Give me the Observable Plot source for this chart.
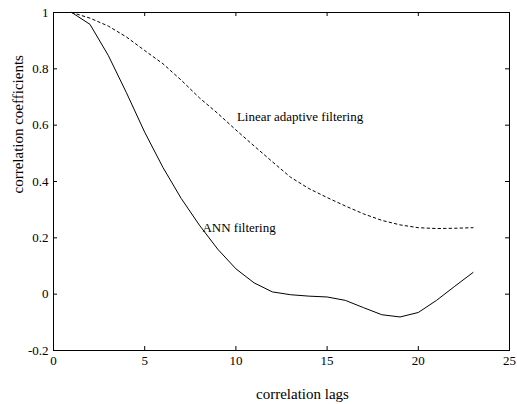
<!DOCTYPE html>
<html><head><meta charset="utf-8">
<script src="https://cdn.jsdelivr.net/npm/d3@7"></script>
<script src="https://cdn.jsdelivr.net/npm/@observablehq/plot@0.6"></script>
<style>body{margin:0;background:#fff}</style>
</head><body><div id="chart"></div>
<script>
const lags = [1,2,3,4,5,6,7,8,9,10,11,12,13,14,15,16,17,18,19,20,21,22,23];
const annValues = [1.0,0.958,0.848,0.715,0.575,0.45,0.34,0.245,0.16,0.09,0.04,0.008,-0.002,-0.007,-0.01,-0.022,-0.048,-0.073,-0.081,-0.065,-0.022,0.028,0.077];
const linearValues = [1.0,0.98,0.952,0.913,0.865,0.818,0.76,0.697,0.642,0.583,0.526,0.47,0.415,0.375,0.343,0.313,0.285,0.262,0.246,0.236,0.233,0.234,0.236];
const seriesNames = ["ANN filtering", "Linear adaptive filtering"];
const xTicks = [0,5,10,15,20,25];
const yTicks = [-0.2,0,0.2,0.4,0.6,0.8,1];
const xLabel = "correlation lags";
const yLabel = "correlation coefficients";

const ann = lags.map((x,i)=>({x, y: annValues[i]}));
const lin = lags.map((x,i)=>({x, y: linearValues[i]}));
const fmt = d => d === 0 ? "0" : String(+d.toFixed(1));
const W = 517, H = 404, mL = 53, mR = 8, mT = 12, mB = 54;
const iw = W - mL - mR, ih = H - mT - mB, tk = 4;

const chart = Plot.plot({
  width: W, height: H,
  marginLeft: mL, marginRight: mR, marginTop: mT, marginBottom: mB,
  style: {fontFamily: "Liberation Serif", fontSize: "13px", color: "black", background: "white"},
  x: {domain: [0,25]},
  y: {domain: [-0.2,1]},
  marks: [
    Plot.axisX(xTicks, {tickSize: 0, tickPadding: 5, tickFormat: fmt, label: null, fontSize: 13}),
    Plot.axisY(yTicks, {tickSize: 0, tickPadding: 5, tickFormat: fmt, label: null, fontSize: 13}),
    Plot.tickX(xTicks, {x: d=>d, insetTop: ih - tk, stroke: "black"}),
    Plot.tickX(xTicks, {x: d=>d, insetBottom: ih - tk, stroke: "black"}),
    Plot.tickY(yTicks, {y: d=>d, insetRight: iw - tk, stroke: "black"}),
    Plot.tickY(yTicks, {y: d=>d, insetLeft: iw - tk, stroke: "black"}),
    Plot.line(lin, {x: "x", y: "y", stroke: "black", strokeWidth: 1, strokeDasharray: "2.5,3"}),
    Plot.line(ann, {x: "x", y: "y", stroke: "black", strokeWidth: 1}),
    Plot.text([ann[7]], {x: "x", y: "y", text: () => seriesNames[0], dx: 3, dy: 3, textAnchor: "start", fontSize: 13, fill: "black"}),
    Plot.text([lin[9]], {x: "x", y: "y", text: () => seriesNames[1], dx: 1, dy: -13, textAnchor: "start", fontSize: 13, fill: "black"}),
    Plot.frame({stroke: "black"}),
    Plot.text([xLabel], {frameAnchor: "bottom", dx: 21, dy: 48, fontSize: 15, fill: "black"}),
    Plot.text([yLabel], {frameAnchor: "left", dx: -35, dy: 12, rotate: -90, fontSize: 15, fill: "black"})
  ]
});
document.getElementById("chart").appendChild(chart);
</script>
</body></html>
